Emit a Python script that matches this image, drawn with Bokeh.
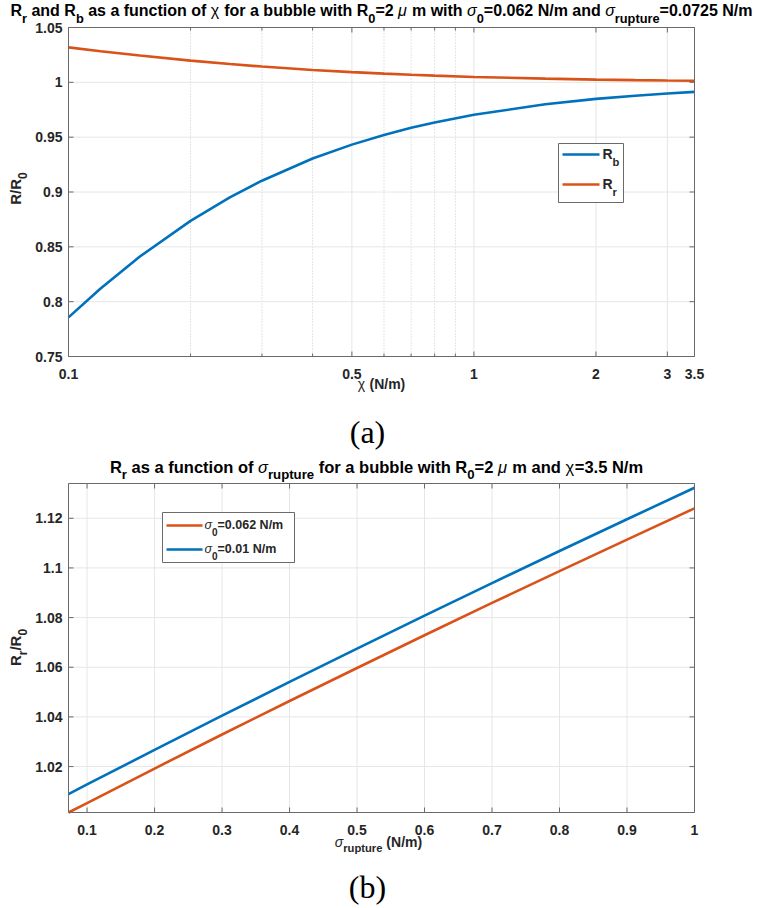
import math
from bokeh.plotting import figure
from bokeh.models import Label, Range1d, LogScale, LinearScale
from bokeh.core.properties import value
from bokeh.embed import file_html
from bokeh.resources import INLINE

# ---------------- data: panel (a) ----------------
chi = [0.1, 0.12, 0.15, 0.2, 0.25, 0.3, 0.4, 0.5, 0.6, 0.7, 0.8, 1.0, 1.5, 2.0, 2.5, 3.0, 3.5]
r_b = [0.7857, 0.8120, 0.8412, 0.8737, 0.8951, 0.9103, 0.9305, 0.9432, 0.9520, 0.9585,
       0.9634, 0.9704, 0.9800, 0.9849, 0.9878, 0.9898, 0.9913]
r_r = [1.0319, 1.0284, 1.0245, 1.0198, 1.0167, 1.0144, 1.0113, 1.0093, 1.0079, 1.0069,
       1.0061, 1.0049, 1.0034, 1.0025, 1.0020, 1.0017, 1.0015]
x_lim_a = [0.1, 3.5]
y_lim_a = [0.75, 1.05]
x_ticks_a = [0.1, 0.5, 1, 2, 3, 3.5]
x_tick_labels_a = ["0.1", "0.5", "1", "2", "3", "3.5"]
x_minor_a = [0.2, 0.3, 0.4, 0.6, 0.7, 0.8, 0.9]
y_ticks_a = [0.75, 0.8, 0.85, 0.9, 0.95, 1, 1.05]
y_tick_labels_a = ["0.75", "0.8", "0.85", "0.9", "0.95", "1", "1.05"]

# ---------------- data: panel (b) ----------------
sigma_rupture = [0.0725, 0.1, 0.2, 0.3, 0.4, 0.5, 0.6, 0.7, 0.8, 0.9, 1.0]
rr_sigma0_062 = [1.0015, 1.0053, 1.0192, 1.0329, 1.0464, 1.0597, 1.0729, 1.0859, 1.0987, 1.1114, 1.1240]
rr_sigma0_001 = [1.0089, 1.0128, 1.0267, 1.0405, 1.0541, 1.0675, 1.0808, 1.0939, 1.1068, 1.1196, 1.1323]
x_lim_b = [0.0725, 1.0]
y_lim_b = [1.0015, 1.134]
x_ticks_b = [0.1, 0.2, 0.3, 0.4, 0.5, 0.6, 0.7, 0.8, 0.9, 1]
x_tick_labels_b = ["0.1", "0.2", "0.3", "0.4", "0.5", "0.6", "0.7", "0.8", "0.9", "1"]
y_ticks_b = [1.02, 1.04, 1.06, 1.08, 1.1, 1.12]
y_tick_labels_b = ["1.02", "1.04", "1.06", "1.08", "1.1", "1.12"]

# ---------------- style / layout ----------------
BLUE = "#0072BD"
ORANGE = "#D95319"
AX = "#262626"       # text
AXL = "#6a6a6a"      # axes box / ticks
GRID = "#e6e6e6"
MINOR = "#c8c8c8"
FONT = "Liberation Sans"
SERIF = "Liberation Serif"
W, H = 762, 906
PA = dict(L=68, R=694, T=27, B=356)
PB = dict(L=68, R=694, T=483, B=812)
LW = 2.6
MID = 0.35      # distance baseline -> text middle, in em
MID_SERIF = 0.34

# approximate advance widths (Arial/Liberation Sans Bold, per 1000 em)
WID = {" ": 278, "(": 333, ")": 333, ".": 278, "/": 278, "=": 584,
       "R": 722, "N": 722,
       "a": 556, "b": 611, "c": 556, "d": 611, "e": 556, "f": 333, "h": 611, "i": 278,
       "l": 278, "m": 889, "n": 611, "o": 611, "p": 611, "r": 389, "s": 556, "t": 333,
       "u": 611, "w": 778, "σ": 600, "μ": 590, "χ": 560}
for d in "0123456789":
    WID[d] = 556


def tw(s, size):
    return sum(WID.get(c, 556) for c in s) * size / 1000.0


def log_x_range(lim, P):
    a, b = math.log10(lim[0]), math.log10(lim[1])
    k = (b - a) / (P["R"] - P["L"])
    return Range1d(10 ** (a - P["L"] * k), 10 ** (b + (W - P["R"]) * k))


def lin_x_range(lim, P):
    k = (lim[1] - lim[0]) / (P["R"] - P["L"])
    return Range1d(lim[0] - P["L"] * k, lim[1] + (W - P["R"]) * k)


def lin_y_range(lim, P):
    k = (lim[1] - lim[0]) / (P["B"] - P["T"])
    return Range1d(lim[0] - (H - P["B"]) * k, lim[1] + P["T"] * k)


p = figure(width=W, height=H, x_range=Range1d(0, W), y_range=Range1d(H, 0),
           output_backend="svg", toolbar_location=None, min_border=0,
           x_axis_location=None, y_axis_location=None)
p.outline_line_color = None
p.background_fill_color = "white"
p.border_fill_color = "white"
p.xgrid.visible = False
p.ygrid.visible = False
p.extra_x_ranges = {"xa": log_x_range(x_lim_a, PA), "xb": lin_x_range(x_lim_b, PB)}
p.extra_x_scales = {"xa": LogScale(), "xb": LinearScale()}
p.extra_y_ranges = {"ya": lin_y_range(y_lim_a, PA), "yb": lin_y_range(y_lim_b, PB)}

STYLE = {"n": "bold", "sub": "bold", "it": "italic", "up": "normal"}


def rich(x, y, segs, size, anchor="center", angle=0.0, color=AX, sub_shift=0.42, sub_scale=0.8):
    """x, y: baseline anchor (page px). Pieces are drawn with 'middle' baseline."""
    pieces = []
    adv = 0.0
    for text, kind in segs:
        sz = size * (sub_scale if kind == "sub" else 1.0)
        shift = size * sub_shift if kind == "sub" else 0.0
        lead = len(text) - len(text.lstrip(" "))
        core = text.strip(" ")
        x0 = adv + lead * WID[" "] * sz / 1000.0
        if core:
            pieces.append((core, x0, shift, sz, STYLE[kind]))
        adv += tw(text, sz)
    start = -adv / 2.0 if anchor == "center" else 0.0
    for core, x0, shift, sz, style in pieces:
        a = start + x0
        d = shift - MID * sz
        if angle == 0:
            px, py = x + a, y + d
        else:
            px, py = x + d, y - a
        p.add_layout(Label(x=px, y=py, text=core, text_font=FONT, text_font_style=style,
                           text_font_size=f"{sz:.1f}px", text_color=color,
                           text_align="left", text_baseline="middle", angle=angle))


def panel_frame(P, xr, yr, xticks, xminor, yticks):
    L, R, T, B = P["L"], P["R"], P["T"], P["B"]
    n, m = len(xticks), len(yticks)
    p.segment(x0=xticks, x1=xticks, y0=[T] * n, y1=[B] * n, x_range_name=xr,
              line_color=GRID, line_width=1)
    if xminor:
        k = len(xminor)
        p.segment(x0=xminor, x1=xminor, y0=[T] * k, y1=[B] * k, x_range_name=xr,
                  line_color=MINOR, line_width=1, line_dash="1 2")
    p.segment(x0=[L] * m, x1=[R] * m, y0=yticks, y1=yticks, y_range_name=yr,
              line_color=GRID, line_width=1)


def panel_axes(P, xr, yr, xticks, xlabels, xminor, yticks, ylabels):
    L, R, T, B = P["L"], P["R"], P["T"], P["B"]
    n, m = len(xticks), len(yticks)
    p.segment(x0=xticks, x1=xticks, y0=[B] * n, y1=[B - 5] * n, x_range_name=xr, line_color=AXL)
    p.segment(x0=xticks, x1=xticks, y0=[T] * n, y1=[T + 5] * n, x_range_name=xr, line_color=AXL)
    if xminor:
        k = len(xminor)
        p.segment(x0=xminor, x1=xminor, y0=[B] * k, y1=[B - 3] * k, x_range_name=xr, line_color=AXL)
        p.segment(x0=xminor, x1=xminor, y0=[T] * k, y1=[T + 3] * k, x_range_name=xr, line_color=AXL)
    p.segment(x0=[L] * m, x1=[L + 5] * m, y0=yticks, y1=yticks, y_range_name=yr, line_color=AXL)
    p.segment(x0=[R] * m, x1=[R - 5] * m, y0=yticks, y1=yticks, y_range_name=yr, line_color=AXL)
    p.quad(left=[L], right=[R], top=[T], bottom=[B], fill_color=None, line_color=AXL, line_width=1)
    p.text(x=xticks, y=[B + 22 - MID * 14] * n, text=xlabels, x_range_name=xr, text_align="center",
           text_baseline="middle", text_font=value(FONT), text_font_style="bold",
           text_font_size="14px", text_color=AX)
    p.text(x=[L - 6] * m, y=yticks, text=ylabels, y_range_name=yr, text_align="right",
           text_baseline="middle", text_font=value(FONT), text_font_style="bold",
           text_font_size="14px", text_color=AX)


def caption(x, y, txt):
    p.add_layout(Label(x=x, y=y - MID_SERIF * 32, text=txt, text_font=SERIF, text_font_size="32px",
                       text_color="#000000", text_align="center", text_baseline="middle"))


# ================= panel (a) =================
panel_frame(PA, "xa", "ya", x_ticks_a, x_minor_a, y_ticks_a)
p.line(chi, r_b, x_range_name="xa", y_range_name="ya", line_color=BLUE, line_width=LW)
p.line(chi, r_r, x_range_name="xa", y_range_name="ya", line_color=ORANGE, line_width=LW)
panel_axes(PA, "xa", "ya", x_ticks_a, x_tick_labels_a, x_minor_a, y_ticks_a, y_tick_labels_a)

# legend (a)
p.quad(left=[558], right=[623], top=[143], bottom=[202], fill_color="white", line_color=AXL, line_width=1)
for yl, col, sub in [(154, BLUE, "b"), (184, ORANGE, "r")]:
    p.line([562, 599], [yl, yl], line_color=col, line_width=LW)
    rich(602, yl + 4, [("R", "n"), (sub, "sub")], 14, anchor="left", sub_shift=0.5)

rich(381, 16,
     [("R", "n"), ("r", "sub"), (" and R", "n"), ("b", "sub"), (" as a function of ", "n"),
      ("χ", "up"), (" for a bubble with R", "n"), ("0", "sub"), ("=2 ", "n"), ("μ", "it"),
      (" m with ", "n"), ("σ", "it"), ("0", "sub"), ("=0.062 N/m and ", "n"), ("σ", "it"),
      ("rupture", "sub"), ("=0.0725 N/m", "n")], 16, color="#000000", sub_shift=0.38)
rich(381, 388, [("χ", "up"), (" (N/m)", "n")], 14)
rich(20, 188, [("R/R", "n"), ("0", "sub")], 15, angle=math.pi / 2)
caption(367, 442, "(a)")

# ================= panel (b) =================
panel_frame(PB, "xb", "yb", x_ticks_b, None, y_ticks_b)
p.line(sigma_rupture, rr_sigma0_062, x_range_name="xb", y_range_name="yb", line_color=ORANGE, line_width=LW)
p.line(sigma_rupture, rr_sigma0_001, x_range_name="xb", y_range_name="yb", line_color=BLUE, line_width=LW)
panel_axes(PB, "xb", "yb", x_ticks_b, x_tick_labels_b, None, y_ticks_b, y_tick_labels_b)

# legend (b)
p.quad(left=[162], right=[294], top=[512], bottom=[562], fill_color="white", line_color=AXL, line_width=1)
for yl, col, txt in [(525, ORANGE, "=0.062 N/m"), (549, BLUE, "=0.01 N/m")]:
    p.line([166, 202], [yl, yl], line_color=col, line_width=LW)
    rich(204, yl + 4, [("σ", "it"), ("0", "sub"), (txt, "n")], 12.5, anchor="left", sub_shift=0.48)

rich(376, 472,
     [("R", "n"), ("r", "sub"), (" as a function of ", "n"), ("σ", "it"), ("rupture", "sub"),
      (" for a bubble with R", "n"), ("0", "sub"), ("=2 ", "n"), ("μ", "it"), (" m and ", "n"),
      ("χ", "up"), ("=3.5 N/m", "n")], 16.5, color="#000000", sub_shift=0.38)
rich(378, 846, [("σ", "it"), ("rupture", "sub"), (" (N/m)", "n")], 14)
rich(20, 647, [("R", "n"), ("r", "sub"), ("/R", "n"), ("0", "sub")], 15, angle=math.pi / 2)
caption(367, 897, "(b)")

open("out.html", "w").write(file_html(p, INLINE))
